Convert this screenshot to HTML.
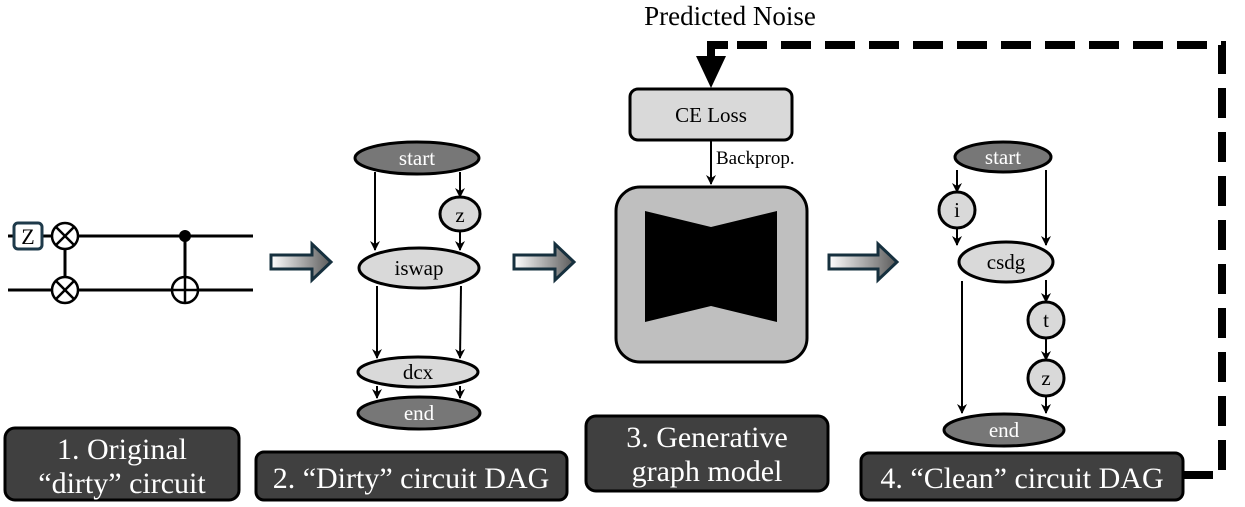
<!DOCTYPE html>
<html><head><meta charset="utf-8"><style>
html,body{margin:0;padding:0;background:#fff;}
svg{display:block;}
svg text{font-family:"Liberation Serif","DejaVu Serif",serif !important;}
</style></head><body>
<svg width="1245" height="507" viewBox="0 0 1245 507" xmlns="http://www.w3.org/2000/svg" font-family="Liberation Serif, serif">
<defs>
<linearGradient id="g" x1="0" x2="1" y1="0" y2="0"><stop offset="0" stop-color="#fff"/><stop offset="1" stop-color="#5a5a5a"/></linearGradient>
<marker id="ah" markerWidth="10" markerHeight="10" refX="9" refY="5" orient="auto" markerUnits="userSpaceOnUse"><path d="M0,0 L10,5 L0,10 L3,5 z" fill="#000"/></marker>
</defs>

<!-- circuit -->
<g stroke="#000" stroke-width="3" fill="none">
<line x1="8" y1="236" x2="253" y2="236"/>
<line x1="8" y1="290" x2="253" y2="290"/>
<line x1="65" y1="236" x2="65" y2="290"/>
<line x1="185" y1="236" x2="185" y2="304"/>
</g>
<rect x="14" y="223" width="28" height="26" rx="4" fill="#fff" stroke="#1e3a4a" stroke-width="3"/>
<text x="28" y="244" font-size="22" text-anchor="middle" font-family="Liberation Serif, serif">Z</text>
<g stroke="#000" stroke-width="2.5" fill="#fff">
<circle cx="65" cy="236" r="13"/><circle cx="65" cy="290" r="13"/>
<circle cx="185" cy="290" r="13"/>
</g>
<g stroke="#000" stroke-width="2.5">
<line x1="56" y1="227" x2="74" y2="245"/><line x1="74" y1="227" x2="56" y2="245"/>
<line x1="56" y1="281" x2="74" y2="299"/><line x1="74" y1="281" x2="56" y2="299"/>
<line x1="172" y1="290" x2="198" y2="290"/><line x1="185" y1="277" x2="185" y2="303"/>
</g>
<circle cx="185" cy="236" r="6" fill="#000"/>

<!-- block arrows -->
<g fill="url(#g)" stroke="#16303e" stroke-width="3">
<path d="M271,255 L312,255 L312,244 L331,262 L312,280 L312,269 L271,269 z"/>
<path d="M514,255 L555,255 L555,244 L574,262 L555,280 L555,269 L514,269 z"/>
<path d="M829,255 L878,255 L878,244 L897,262 L878,280 L878,269 L829,269 z"/>
</g>

<!-- dirty DAG -->
<g stroke="#000" stroke-width="2" marker-end="url(#ah)">
<line x1="375" y1="172" x2="375" y2="250"/>
<line x1="460" y1="172" x2="460" y2="197"/>
<line x1="460" y1="231" x2="460" y2="250"/>
<line x1="377" y1="286" x2="377" y2="358"/>
<line x1="461" y1="286" x2="460" y2="358"/>
<line x1="377" y1="386" x2="377" y2="398"/>
<line x1="460" y1="386" x2="460" y2="398"/>
</g>
<g stroke="#000" stroke-width="3">
<ellipse cx="417" cy="158" rx="62" ry="16" fill="#777"/>
<ellipse cx="460" cy="214" rx="20" ry="17" fill="#d9d9d9"/>
<ellipse cx="419" cy="268" rx="60" ry="20" fill="#d9d9d9"/>
<ellipse cx="418" cy="372" rx="60" ry="15" fill="#d9d9d9"/>
<ellipse cx="419" cy="413" rx="61" ry="16" fill="#777"/>
</g>
<g font-size="21" text-anchor="middle" font-family="Liberation Serif, serif">
<text x="417" y="165" fill="#fff">start</text>
<text x="460" y="222">z</text>
<text x="419" y="275">iswap</text>
<text x="418" y="379">dcx</text>
<text x="419" y="420" fill="#fff">end</text>
</g>

<!-- predicted noise / loss -->
<text x="730" y="25" font-size="27" text-anchor="middle" font-family="Liberation Serif, serif">Predicted Noise</text>
<path d="M1183,475 L1222,475 L1222,45 L711,45 L711,58" fill="none" stroke="#000" stroke-width="8" stroke-dasharray="30,14"/>
<line x1="711" y1="42" x2="711" y2="60" stroke="#000" stroke-width="8"/>
<line x1="707" y1="45" x2="728" y2="45" stroke="#000" stroke-width="8"/>
<path d="M696,56 L726,56 L711,88 z" fill="#000"/>
<rect x="630" y="89" width="162" height="51" rx="8" fill="#d9d9d9" stroke="#000" stroke-width="3"/>
<text x="711" y="122" font-size="21" text-anchor="middle" font-family="Liberation Serif, serif">CE Loss</text>
<line x1="711" y1="140" x2="711" y2="184" stroke="#000" stroke-width="2" marker-end="url(#ah)"/>
<text x="716" y="164" font-size="19" font-family="Liberation Serif, serif">Backprop.</text>
<rect x="616" y="187" width="191" height="175" rx="24" fill="#bfbfbf" stroke="#000" stroke-width="3"/>
<path d="M645,211 L711,227 L777,211 L777,322 L711,306 L645,322 z" fill="#000"/>

<!-- clean DAG -->
<g stroke="#000" stroke-width="2" marker-end="url(#ah)">
<line x1="957" y1="170" x2="957" y2="192"/>
<line x1="957" y1="228" x2="957" y2="245"/>
<line x1="1046" y1="170" x2="1046" y2="245"/>
<line x1="962" y1="281" x2="962" y2="413"/>
<line x1="1046" y1="280" x2="1046" y2="302"/>
<line x1="1046" y1="338" x2="1046" y2="360"/>
<line x1="1046" y1="396" x2="1046" y2="413"/>
</g>
<g stroke="#000" stroke-width="3">
<ellipse cx="1003" cy="157" rx="48" ry="15" fill="#777"/>
<ellipse cx="957" cy="210" rx="18" ry="18" fill="#d9d9d9"/>
<ellipse cx="1006" cy="262" rx="47" ry="20" fill="#d9d9d9"/>
<ellipse cx="1046" cy="320" rx="18" ry="18" fill="#d9d9d9"/>
<ellipse cx="1046" cy="378" rx="18" ry="18" fill="#d9d9d9"/>
<ellipse cx="1004" cy="430" rx="60" ry="16" fill="#777"/>
</g>
<g font-size="21" text-anchor="middle" font-family="Liberation Serif, serif">
<text x="1003" y="164" fill="#fff">start</text>
<text x="957" y="217">i</text>
<text x="1006" y="269">csdg</text>
<text x="1046" y="327">t</text>
<text x="1046" y="385">z</text>
<text x="1004" y="437" fill="#fff">end</text>
</g>

<!-- labels -->
<g fill="#404040" stroke="#000" stroke-width="3">
<rect x="5" y="428" width="234" height="72" rx="10"/>
<rect x="256" y="452" width="311" height="48" rx="8"/>
<rect x="586" y="416" width="242" height="75" rx="10"/>
<rect x="861" y="453" width="322" height="47" rx="8"/>
</g>
<g fill="#fff" font-size="30" text-anchor="middle" font-family="Liberation Serif, serif">
<text x="122" y="459">1. Original</text>
<text x="122" y="493">“dirty” circuit</text>
<text x="411" y="488">2. “Dirty” circuit DAG</text>
<text x="707" y="447">3. Generative</text>
<text x="707" y="481">graph model</text>
<text x="1022" y="488">4. “Clean” circuit DAG</text>
</g>
</svg>
</body></html>
